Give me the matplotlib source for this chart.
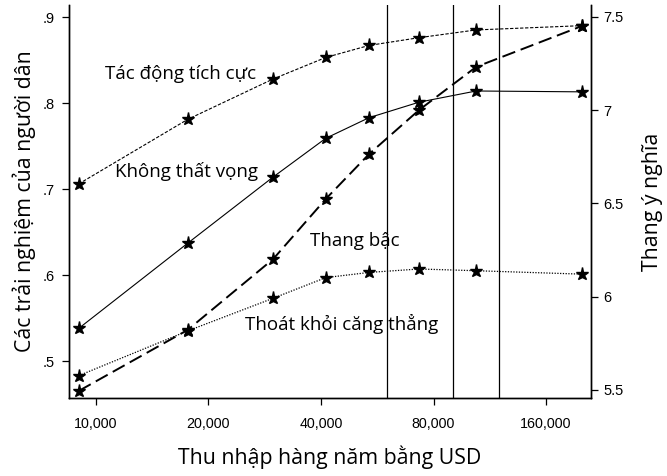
import numpy as np
import matplotlib.pyplot as plt
from matplotlib.ticker import FixedLocator, NullLocator

# income bracket midpoints (USD)
income = [9000, 17600, 29800, 41200, 53800, 73200, 104000, 200000]

positive_affect = [.706, .781, .828, .853, .867, .876, .885, .890]
not_blue = [.538, .637, .714, .759, .783, .801, .814, .813]
stress_free = [.483, .535, .573, .597, .603, .607, .605, .601]
ladder = [5.495, 5.822, 6.202, 6.524, 6.765, 7.001, 7.232, 7.452]

xticks = [10000, 20000, 40000, 80000, 160000]
xticklabels = ['10,000', '20,000', '40,000', '80,000', '160,000']
left_ticks = [.5, .6, .7, .8, .9]
left_ticklabels = ['.5', '.6', '.7', '.8', '.9']
right_ticks = [5.5, 6, 6.5, 7, 7.5]
right_ticklabels = ['5.5', '6', '6.5', '7', '7.5']
vlines = [60000, 90000, 120000]

lab_font = 'Open Sans'
tick_font = 'Liberation Sans'

fig = plt.figure(figsize=(6.67, 4.76), dpi=100)
ax = fig.add_axes([0.1034, 0.1639, 0.7826, 0.8256])
ax2 = ax.twinx()

star = dict(marker='*', markersize=9.5, markerfacecolor='black', markeredgecolor='black', color='black')
ax.plot(income, positive_affect, linestyle=(0, (3, 1.5)), linewidth=0.8, **star)
ax.plot(income, not_blue, linestyle='-', linewidth=0.8, **star)
ax.plot(income, stress_free, linestyle=(0, (1, 1.2)), linewidth=0.9, **star)
ax2.plot(income, ladder, linestyle=(0, (7, 3)), linewidth=1.4, **star)

for v in vlines:
    ax.axvline(v, color='black', linewidth=0.9)

ax.set_xscale('log')
ax.set_xlim(8470, 211000)
ax.xaxis.set_major_locator(FixedLocator(xticks))
ax.xaxis.set_minor_locator(NullLocator())
ax.set_xticklabels(xticklabels, fontfamily=tick_font, fontsize=10.3)

ax.set_ylim(.457, .914)
ax.set_yticks(left_ticks)
ax.set_yticklabels(left_ticklabels, fontfamily=tick_font, fontsize=10.5)
ax2.set_ylim(5.457, 7.564)
ax2.set_yticks(right_ticks)
ax2.set_yticklabels(right_ticklabels, fontfamily=tick_font, fontsize=10.5)

for a in (ax, ax2):
    a.spines['top'].set_visible(False)
    for s in a.spines.values():
        s.set_linewidth(1.0)
ax.tick_params(axis='x', length=5, width=0.9, direction='out', pad=9)
ax.tick_params(axis='y', length=5, width=0.9, direction='out', pad=5)
ax2.tick_params(axis='y', length=5, width=0.9, direction='out', pad=4)

ax.set_xlabel('Thu nhập hàng năm bằng USD', fontfamily=lab_font, fontsize=15.3, labelpad=10)
ax.set_ylabel('Các trải nghiệm của người dân', fontfamily=lab_font, fontsize=15.3, labelpad=5)
ax2.set_ylabel('Thang ý nghĩa', fontfamily=lab_font, fontsize=15.3, labelpad=13)

ax.text(10570, .8337, 'Tác động tích cực', fontfamily=lab_font, fontsize=13.5, va='center')
ax.text(11240, .7198, 'Không thất vọng', fontfamily=lab_font, fontsize=13.5, va='center')
ax.text(37370, .6395, 'Thang bậc', fontfamily=lab_font, fontsize=13.5, va='center')
ax.text(25040, .543, 'Thoát khỏi căng thẳng', fontfamily=lab_font, fontsize=13.5, va='center')

plt.savefig('out.png', dpi=100)
